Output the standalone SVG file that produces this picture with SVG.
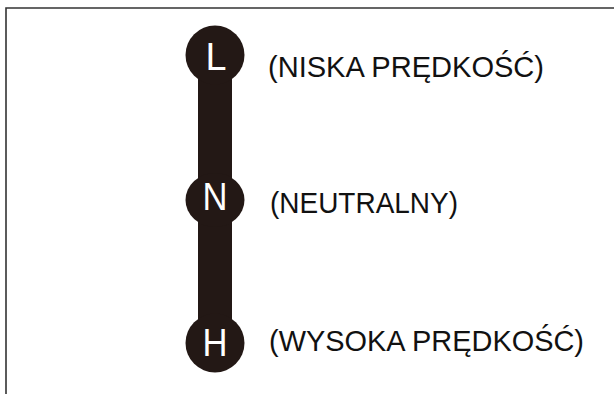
<svg xmlns="http://www.w3.org/2000/svg" width="614" height="394" viewBox="0 0 614 394">
<style>
.knob{fill:#231815}
.ltr{font-family:"Liberation Sans",Arial,sans-serif;font-size:39px;fill:#ffffff;text-anchor:middle}
.lbl{font-family:"Liberation Sans",Arial,sans-serif;font-size:29px;fill:#111111}
.frame{stroke:#333333;stroke-width:1.6;fill:none}
</style>
<path class="frame" d="M6,394 V8 H614"/>
<g id="connectors">
<rect class="knob" x="198" y="56" width="34" height="288"/>
</g>
<g id="node-L">
<circle class="knob" cx="215" cy="55" r="29.5"/>
<text class="ltr" x="216" y="70" textLength="21" lengthAdjust="spacingAndGlyphs">L</text>
<text class="lbl" x="268" y="77" textLength="276" lengthAdjust="spacingAndGlyphs">(NISKA PRĘDKOŚĆ)</text>
</g>
<g id="node-N">
<ellipse class="knob" cx="215" cy="200" rx="29.5" ry="27"/>
<text class="ltr" x="215" y="210" textLength="25" lengthAdjust="spacingAndGlyphs">N</text>
<text class="lbl" x="270" y="213" textLength="188" lengthAdjust="spacingAndGlyphs">(NEUTRALNY)</text>
</g>
<g id="node-H">
<circle class="knob" cx="215" cy="343" r="29.5"/>
<text class="ltr" x="215" y="356" textLength="25" lengthAdjust="spacingAndGlyphs">H</text>
<text class="lbl" x="269" y="351" textLength="315" lengthAdjust="spacingAndGlyphs">(WYSOKA PRĘDKOŚĆ)</text>
</g>
</svg>
